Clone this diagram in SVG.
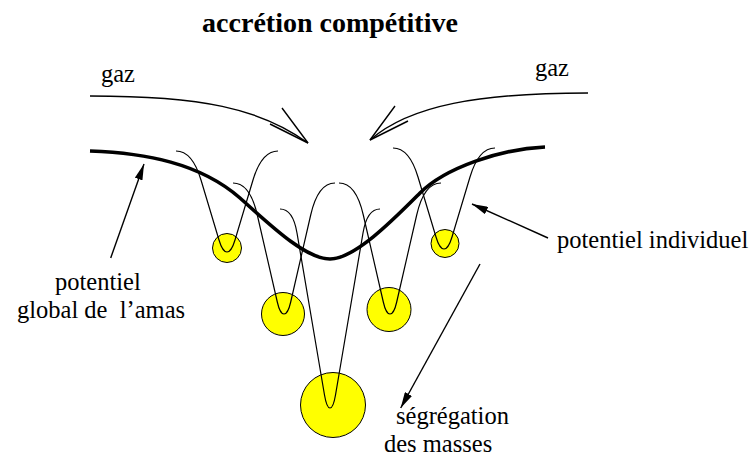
<svg xmlns="http://www.w3.org/2000/svg" width="753" height="463" viewBox="0 0 753 463">
<style>
.t{font-family:"Liberation Serif","Times New Roman",serif;font-size:24.5px;fill:#000}
.title{font-family:"Liberation Serif","Times New Roman",serif;font-size:28px;font-weight:bold;fill:#000}
.star{fill:#ffff00;stroke:#000;stroke-width:1}
.well{fill:none;stroke:#000;stroke-width:1.2}
.thick{fill:none;stroke:#000;stroke-width:3.6}
.ln{fill:none;stroke:#000;stroke-width:1.4}
</style>
<defs>
<marker id="ah" viewBox="0 0 16 8" refX="16" refY="4" markerWidth="16" markerHeight="8" orient="auto" markerUnits="userSpaceOnUse">
<path d="M0,0 L16,4 L0,8 z" fill="#000"/>
</marker>
</defs>
<rect width="753" height="463" fill="#fff"/>
<text class="title" x="330" y="32" text-anchor="middle">accrétion compétitive</text>
<g id="stars">
<circle class="star" cx="227" cy="248" r="14.5"/>
<circle class="star" cx="283" cy="314" r="21.5"/>
<circle class="star" cx="389" cy="309.5" r="22"/>
<circle class="star" cx="445" cy="243.5" r="14"/>
<circle class="star" cx="333" cy="405" r="32.5"/>
</g>
<g id="wells">
<path id="well1" class="well" d="M176,151 Q192.3,151 201,180 L219,240 Q222.6,252 227,252 Q231.4,252 235,240 L253,180 Q261.7,151 278,151"/>
<path id="well4" class="well" d="M393,148 Q409.3,148 418,177 L436,237 Q439.6,249 444,249 Q448.4,249 452,237 L470,177 Q478.7,148 495,148"/>
<path id="well2" class="well" d="M233,183 Q250,183 257.3,215 L277.3,302 Q280,314 284,314 Q288,314 290.7,302 L310.7,215 Q318,183 335,183"/>
<path id="well3" class="well" d="M339,183 Q356,183 363.3,215 L383.3,302 Q386,314 390,314 Q394,314 396.7,302 L416.7,215 Q424,183 441,183"/>
<path id="well5" class="well" d="M280,209 Q293,209 297,233 L324.5,395 Q326.7,408 330,408 Q333.3,408 335.5,395 L363,233 Q367,209 380,209"/>
</g>
<g id="global-potential">
<path class="thick" d="M90,151 C145,153 200,163 240,198 C268,223 305,259 330,259 C355,259 395,218 420,193 C445,168 500,149 545,147"/>
</g>
<g id="connectors">
<path class="ln" d="M90,96 C200,96 260,108 308,143"/>
<polyline class="ln" points="282,108 308,143 270,124"/>
<path class="ln" d="M588,93 C480,93 410,105 370,140"/>
<polyline class="ln" points="395,106 370,140 408,121"/>
<line class="ln" x1="110.7" y1="258" x2="144" y2="164" marker-end="url(#ah)"/>
<line class="ln" x1="548" y1="238" x2="472" y2="204" marker-end="url(#ah)"/>
<line class="ln" x1="480" y1="264" x2="400.7" y2="408" marker-end="url(#ah)"/>
</g>
<g id="labels">
<text class="t" x="101" y="82">gaz</text>
<text class="t" x="535" y="76">gaz</text>
<text class="t" x="557" y="248">potentiel individuel</text>
<text class="t" x="55" y="290">potentiel</text>
<text class="t" x="17" y="318" xml:space="preserve">global de  l’amas</text>
<text class="t" x="396" y="424">ségrégation</text>
<text class="t" x="384" y="452">des masses</text>
</g>
</svg>
